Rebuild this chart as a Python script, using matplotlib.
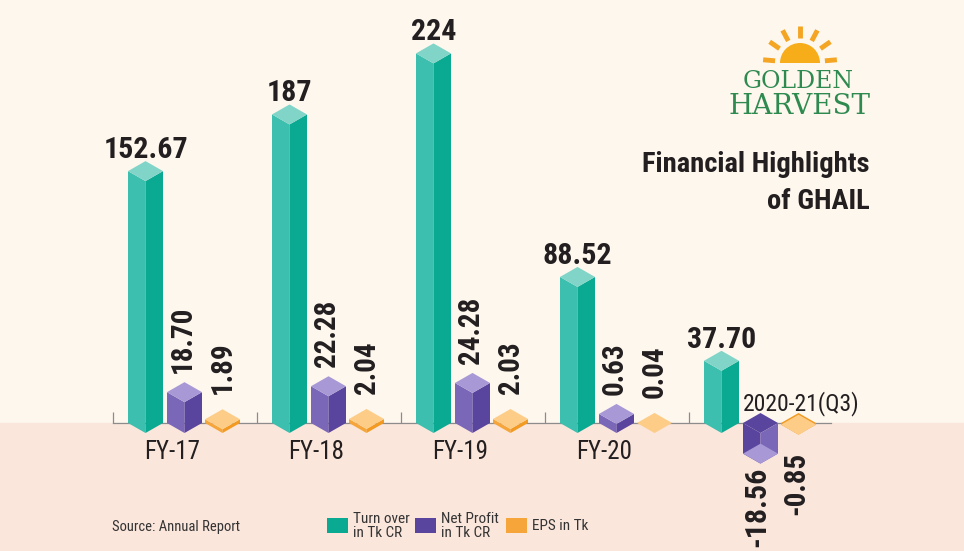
import matplotlib.pyplot as plt
from matplotlib.patches import Polygon, Rectangle, Wedge
from matplotlib import font_manager
import numpy as np

# data
years = ["FY-17", "FY-18", "FY-19", "FY-20", "2020-21(Q3)"]
turnover = [152.67, 187, 224, 88.52, 37.70]
turnover_lbl = ["152.67", "187", "224", "88.52", "37.70"]
net_profit = [18.70, 22.28, 24.28, 0.63, -18.56]
net_profit_lbl = ["18.70", "22.28", "24.28", "0.63", "-18.56"]
eps = [1.89, 2.04, 2.03, 0.04, -0.85]
eps_lbl = ["1.89", "2.04", "2.03", "0.04", "-0.85"]
legend_lbl = ["Turn over\nin Tk CR", "Net Profit\nin Tk CR", "EPS in Tk"]

# colours (left face, right face, top face)
teal = ("#3cbfae", "#0aa991", "#80d5c8")
purple = ("#7b67b8", "#5a459e", "#a898d5")
orange = ("#f6a53a", "#f29a22", "#fdcd88")
bg_top = "#fef7ee"
bg_bot = "#fbe6dc"


# look for a narrow/condensed face among the installed fonts
def narrow_font(bold):
    prefs = ["liberationsansnarrow", "robotocondensed", "roboto_condensed", "notosans-extracondensed",
             "notosans-condensed", "opensans-condensed", "opensans_condensed", "opensanscondensed",
             "dejavusanscondensed"]
    best = None
    for f in font_manager.fontManager.ttflist:
        fn = f.fname.lower().split("/")[-1]
        is_bold = "bold" in fn and "semibold" not in fn and "extrabold" not in fn
        if is_bold != bold:
            continue
        if "italic" in fn or "oblique" in fn:
            continue
        for rank, p in enumerate(prefs):
            if fn.startswith(p):
                rest = fn[len(p):].replace("-", "").replace("_", "")
                # keep plain regular / bold only
                if bold and rest not in ("bold.ttf", "bold.otf"):
                    continue
                if not bold and rest not in (".ttf", ".otf", "regular.ttf", "regular.otf"):
                    continue
                if best is None or rank < best[0]:
                    best = (rank, f.fname)
    if best is None:
        return font_manager.FontProperties(family="DejaVu Sans", stretch="condensed",
                                           weight="bold" if bold else "normal")
    return font_manager.FontProperties(fname=best[1])


FB = narrow_font(True)
FR = narrow_font(False)

W, H = 964, 551
PX = 1.65          # pixels per value unit
BASE = 423         # baseline pixel row
GROUP = 144.0      # group spacing in pixels
X0 = 145.5         # first group centre in pixels

fig = plt.figure(figsize=(W / 100, H / 100), dpi=100)
fig.patch.set_facecolor(bg_top)

ax = fig.add_axes([0, 0, 1, 1])
ax.set_xlim(-X0 / GROUP, (W - X0) / GROUP)
ax.set_ylim(-(H - BASE) / PX, BASE / PX)
ax.axis("off")
ax.axhspan(-(H - BASE) / PX, 0, color=bg_bot, zorder=0)

w = 17.5 / GROUP   # half width of a prism
dy = 10 / PX       # half height of the rhombus cap
offs = [0, 39 / GROUP, 77 / GROUP]


def prism(cx, h, cols):
    lc, rc, tc = cols
    if h >= 0:
        ax.add_patch(Polygon([(cx - w, 0), (cx - w, h), (cx, h - dy), (cx, -dy)], fc=lc, ec="none", zorder=3))
        ax.add_patch(Polygon([(cx, -dy), (cx, h - dy), (cx + w, h), (cx + w, 0)], fc=rc, ec="none", zorder=3))
        ax.add_patch(Polygon([(cx - w, h), (cx, h + dy), (cx + w, h), (cx, h - dy)], fc=tc, ec="none", zorder=3))
    else:
        ax.add_patch(Polygon([(cx - w, 0), (cx, dy), (cx + w, 0), (cx, -dy)], fc=rc, ec="none", zorder=3))
        ax.add_patch(Polygon([(cx - w, 0), (cx - w, h), (cx, h - dy), (cx, -dy)], fc=rc, ec="none", zorder=3))
        ax.add_patch(Polygon([(cx, -dy), (cx, h - dy), (cx + w, h), (cx + w, 0)], fc=lc, ec="none", zorder=3))
        ax.add_patch(Polygon([(cx - w, h), (cx, h + dy), (cx + w, h), (cx, h - dy)], fc=tc, ec="none", zorder=3))


# axis line and ticks
tick_x = np.arange(len(years)) - 32.5 / GROUP
ax.plot([tick_x[0], (831 - X0) / GROUP], [0, 0], color="#8c8c8c", lw=0.9, zorder=1)
ax.vlines(tick_x, 0, 11 / PX, color="#8c8c8c", lw=0.9, zorder=1)

ink = "#231f20"

for i in range(len(years)):
    # turnover
    cx = i + offs[0]
    h = turnover[i]
    prism(cx, h, teal)
    ax.text(cx, h + dy + 3 / PX, turnover_lbl[i], ha="center", va="baseline", fontproperties=FB,
            fontsize=21.5, color=ink, zorder=5)

    # net profit
    cx = i + offs[1]
    v = net_profit[i]
    h = np.sign(v) * max(abs(v), 5.5)
    prism(cx, h, purple)
    if v >= 0:
        ax.text(cx - 2 / GROUP, h + dy + 9 / PX, net_profit_lbl[i], rotation=90, ha="center", va="bottom",
                fontproperties=FB, fontsize=21, color=ink, zorder=5)
    else:
        ax.text(cx - 3 / GROUP, h - dy - 3 / PX, net_profit_lbl[i], rotation=90, ha="center", va="top",
                fontproperties=FB, fontsize=21.5, color=ink, zorder=5)

    # eps
    cx = i + offs[2]
    v = eps[i]
    h = v * 1.2
    prism(cx, h, orange)
    if v >= 0:
        ax.text(cx, h + dy + 15 / PX, eps_lbl[i], rotation=90, ha="center", va="bottom",
                fontproperties=FB, fontsize=21, color=ink, zorder=5)
    else:
        ax.text(cx - 2 / GROUP, h - dy - 17 / PX, eps_lbl[i], rotation=90, ha="center", va="top",
                fontproperties=FB, fontsize=21, color=ink, zorder=5)

# category labels
for i, name in enumerate(years[:-1]):
    ax.text(i + 26.5 / GROUP, -29 / PX, name, ha="center", va="center", fontproperties=FR,
            fontsize=18, color=ink, zorder=5)
ax.text(len(years) - 1 + 80 / GROUP, 19 / PX, years[-1], ha="center", va="center", fontproperties=FR,
        fontsize=17, color=ink, zorder=5)

# overlay in pixel coordinates for title, logo and legend
ov = fig.add_axes([0, 0, 1, 1])
ov.set_xlim(0, W)
ov.set_ylim(H, 0)
ov.set_aspect("equal")
ov.axis("off")
ov.patch.set_alpha(0)

# logo
sun_c = (800, 63)
ov.add_patch(Wedge(sun_c, 20, 180, 360, fc="#f7ad1a", ec="none"))
for ang in [5, 35, 62, 90, 118, 145, 175]:
    a = np.deg2rad(ang)
    ov.plot([sun_c[0] + 25 * np.cos(a), sun_c[0] + 37 * np.cos(a)],
            [sun_c[1] - 25 * np.sin(a), sun_c[1] - 37 * np.sin(a)],
            color="#f4a523", lw=3.5, solid_capstyle="butt")
ov.text(798, 81, "GOLDEN", ha="center", va="center", fontsize=17, family="DejaVu Serif", color="#2f8a50")
ov.text(799, 107, "HARVEST", ha="center", va="center", fontsize=20, family="DejaVu Serif", color="#2f8a50")

# title
ov.text(870, 172, "Financial Highlights", ha="right", va="baseline", fontproperties=FB, fontsize=20.5, color=ink)
ov.text(870, 209, "of GHAIL", ha="right", va="baseline", fontproperties=FB, fontsize=20.5, color=ink)

# source and legend
ov.text(112, 527, "Source: Annual Report", ha="left", va="center", fontproperties=FR, fontsize=10.5,
        color="#333333")
leg_x = [327, 415, 506]
leg_c = [teal[1], purple[1], orange[0]]
for x, c, lbl in zip(leg_x, leg_c, legend_lbl):
    ov.add_patch(Rectangle((x, 518), 21, 15, fc=c, ec="none"))
    ov.text(x + 26, 526, lbl, ha="left", va="center", fontproperties=FR, fontsize=11, linespacing=1.05,
            color="#333333")

fig.savefig("out.png", dpi=100, facecolor=fig.get_facecolor())
